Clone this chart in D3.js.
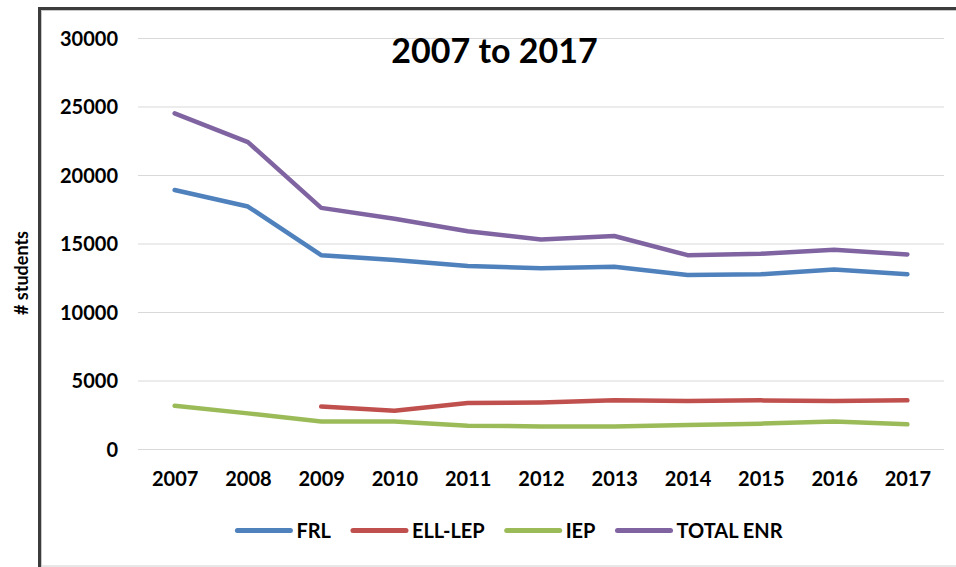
<!DOCTYPE html>
<html>
<head>
<meta charset="utf-8">
<script src="https://cdn.jsdelivr.net/npm/d3@7"></script>
<style>
  html, body { margin: 0; padding: 0; background: #fff; }
  svg { display: block; }
  text { font-family: Lato, "Liberation Sans", Arial, sans-serif; font-weight: bold; fill: #000; }
</style>
</head>
<body>
<svg id="chart" width="956" height="567"></svg>
<script>
// ---- data ----
const years = ["2007","2008","2009","2010","2011","2012","2013","2014","2015","2016","2017"];
const frl      = [18900, 17700, 14150, 13800, 13350, 13200, 13300, 12700, 12750, 13100, 12750];
const ellLep   = [null, null, 3100, 2800, 3350, 3400, 3550, 3500, 3550, 3500, 3550];
const iep      = [3150, 2600, 2000, 2000, 1700, 1650, 1650, 1750, 1850, 2000, 1800];
const totalEnr = [24500, 22400, 17600, 16800, 15900, 15300, 15550, 14150, 14250, 14550, 14200];
const seriesNames = ["FRL", "ELL-LEP", "IEP", "TOTAL ENR"];
const yTicks = [0, 5000, 10000, 15000, 20000, 25000, 30000];
const titleText = "2007 to 2017";
const yTitle = "# students";

// ---- layout ----
const colors = ["#4F81BD", "#C0504D", "#9BBB59", "#8064A2"];
const seriesValues = [frl, ellLep, iep, totalEnr];
const plot = { left: 138, right: 944, top: 38, bottom: 449 };

const svg = d3.select("#chart");

// frame
svg.append("line").attr("x1", 39.5).attr("x2", 956).attr("y1", 8.5).attr("y2", 8.5)
  .attr("stroke", "#3c3c3c").attr("stroke-width", 3);
svg.append("line").attr("x1", 41).attr("x2", 956).attr("y1", 10.5).attr("y2", 10.5)
  .attr("stroke", "#c8c8c8").attr("stroke-width", 1);
svg.append("line").attr("x1", 39.5).attr("x2", 39.5).attr("y1", 7).attr("y2", 567)
  .attr("stroke", "#3c3c3c").attr("stroke-width", 3);
svg.append("line").attr("x1", 41.5).attr("x2", 41.5).attr("y1", 10).attr("y2", 567)
  .attr("stroke", "#c8c8c8").attr("stroke-width", 1);
svg.append("line").attr("x1", 41).attr("x2", 956).attr("y1", 566).attr("y2", 566)
  .attr("stroke", "#d0d0d0").attr("stroke-width", 1);

const x = d3.scalePoint().domain(years).range([plot.left, plot.right]).padding(0.5);
const y = d3.scaleLinear().domain([0, 30000]).range([plot.bottom, plot.top]);

// gridlines
svg.append("g")
  .attr("transform", `translate(${plot.left},0)`)
  .call(d3.axisLeft(y).tickValues(yTicks).tickSize(-(plot.right - plot.left)).tickFormat(""))
  .call(g => g.select(".domain").remove())
  .call(g => g.selectAll(".tick line").attr("stroke", "#d9d9d9").attr("stroke-width", 1));

// y tick labels
svg.append("g")
  .attr("transform", `translate(118,0)`)
  .call(d3.axisLeft(y).tickValues(yTicks).tickSize(0).tickPadding(0).tickFormat(d3.format("d")))
  .call(g => g.select(".domain").remove())
  .call(g => g.selectAll(".tick text").attr("font-size", 20).attr("dy", "0.36em")
    .style("font-family", "Lato, 'Liberation Sans', sans-serif").style("font-weight", "bold"));

// x tick labels
svg.append("g")
  .attr("transform", `translate(0,${plot.bottom})`)
  .call(d3.axisBottom(x).tickSize(0).tickPadding(0))
  .call(g => g.select(".domain").remove())
  .call(g => g.selectAll(".tick text").attr("font-size", 20).attr("y", 37).attr("dy", 0)
    .style("font-family", "Lato, 'Liberation Sans', sans-serif").style("font-weight", "bold"));

// lines
const line = d3.line()
  .defined(d => d.v != null)
  .x(d => x(d.year))
  .y(d => y(d.v));

seriesValues.forEach((vals, i) => {
  const pts = years.map((yr, j) => ({ year: yr, v: vals[j] }));
  svg.append("path")
    .datum(pts)
    .attr("fill", "none")
    .attr("stroke", colors[i])
    .attr("stroke-width", 4.5)
    .attr("stroke-linejoin", "round")
    .attr("stroke-linecap", "round")
    .attr("d", line);
});

// title
svg.append("text")
  .attr("x", 494.5).attr("y", 63)
  .attr("text-anchor", "middle")
  .attr("font-size", 34)
  .text(titleText);

// y axis title
svg.append("text")
  .attr("transform", "translate(28,273) rotate(-90)")
  .attr("text-anchor", "middle")
  .attr("font-size", 18)
  .text(yTitle);

// legend
const legend = svg.append("g");
const lineLen = 53, textGap = 6, itemGap = 22, legendY = 530.5, legendCenter = 510;
const items = seriesNames.map((name, i) => {
  const g = legend.append("g");
  g.append("line").attr("x1", 0).attr("x2", lineLen).attr("y1", legendY).attr("y2", legendY)
    .attr("stroke", colors[i]).attr("stroke-width", 5).attr("stroke-linecap", "round");
  const t = g.append("text").attr("x", lineLen + textGap).attr("y", legendY + 7)
    .attr("font-size", 20).text(name);
  return { g, w: lineLen + textGap + t.node().getComputedTextLength() };
});
const total = d3.sum(items, d => d.w) + itemGap * (items.length - 1);
let cx = legendCenter - total / 2;
items.forEach(it => { it.g.attr("transform", `translate(${cx},0)`); cx += it.w + itemGap; });
</script>
</body>
</html>
